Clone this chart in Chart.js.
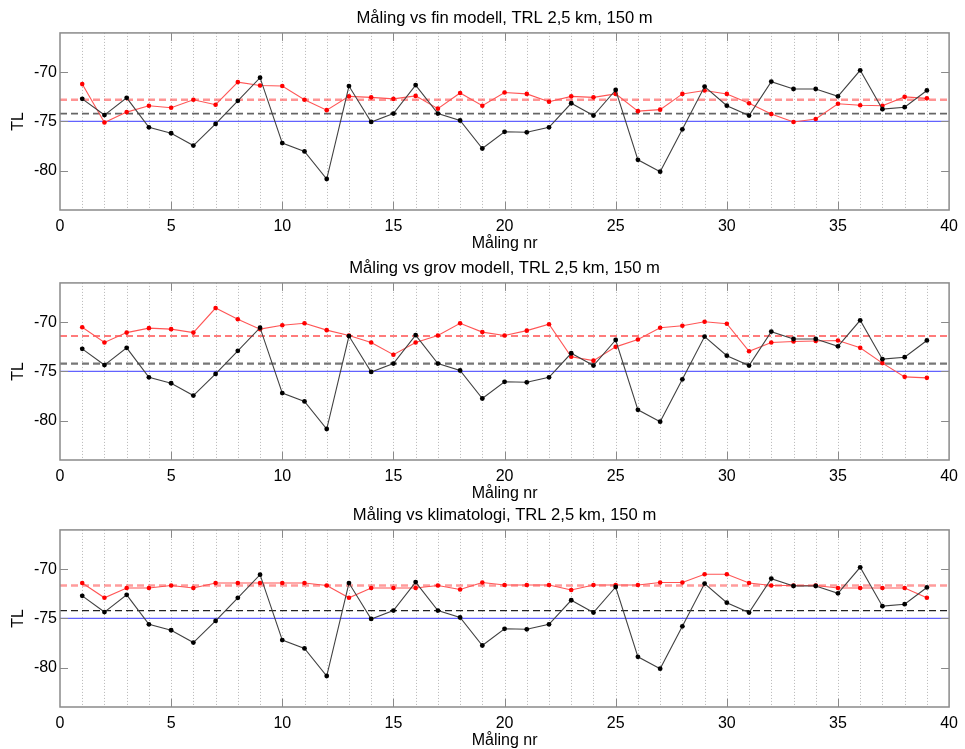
<!DOCTYPE html>
<html>
<head>
<meta charset="utf-8">
<script src="https://cdn.jsdelivr.net/npm/chart.js@4.4.1/dist/chart.umd.min.js"></script>
<style>
  html, body { margin: 0; padding: 0; background: #fff; }
  .panel { position: absolute; left: 0; width: 965px; height: 253px; }
</style>
</head>
<body>
<div class="panel" style="top:0"><canvas id="finChart"></canvas></div>
<div class="panel" style="top:250px"><canvas id="grovChart"></canvas></div>
<div class="panel" style="top:497px"><canvas id="klimaChart"></canvas></div>
<script>
// --- data ---
const malingNr = [1, 2, 3, 4, 5, 6, 7, 8, 9, 10, 11, 12, 13, 14, 15, 16, 17, 18, 19, 20,
  21, 22, 23, 24, 25, 26, 27, 28, 29, 30, 31, 32, 33, 34, 35, 36, 37, 38, 39];

// measured TL (same in all three panels)
const tlMaling = [-72.7, -74.35, -72.6, -75.6, -76.2, -77.45, -75.25, -72.9, -70.55, -77.2,
  -78.05, -80.85, -71.4, -75.05, -74.2, -71.3, -74.2, -74.9, -77.75, -76.05,
  -76.1, -75.6, -73.15, -74.4, -71.8, -78.9, -80.1, -75.8, -71.45, -73.4,
  -74.4, -70.95, -71.7, -71.7, -72.45, -69.8, -73.75, -73.55, -71.85];

// fine model
const tlFin = [-71.2, -75.1, -74.05, -73.4, -73.6, -72.8, -73.3, -71.0, -71.35, -71.4,
  -72.8, -73.85, -72.45, -72.55, -72.7, -72.4, -73.7, -72.1, -73.4, -72.05,
  -72.2, -73.0, -72.45, -72.55, -72.2, -73.95, -73.8, -72.2, -71.85, -72.2,
  -73.15, -74.25, -75.05, -74.75, -73.2, -73.35, -73.4, -72.5, -72.65];

// coarse model
const tlGrov = [-70.5, -72.05, -71.05, -70.6, -70.7, -71.05, -68.55, -69.7, -70.7, -70.3,
  -70.1, -70.8, -71.35, -72.05, -73.3, -72.05, -71.35, -70.1, -71.0, -71.35,
  -70.85, -70.2, -73.5, -73.9, -72.5, -71.75, -70.55, -70.35, -69.95, -70.15,
  -72.95, -72.05, -71.95, -71.9, -71.85, -72.6, -74.15, -75.55, -75.65];

// climatology
const tlKlima = [-71.4, -72.9, -71.9, -71.9, -71.65, -71.9, -71.4, -71.4, -71.4, -71.4,
  -71.4, -71.65, -72.9, -71.9, -71.9, -71.9, -71.65, -72.05, -71.35, -71.6,
  -71.6, -71.6, -72.1, -71.6, -71.6, -71.6, -71.35, -71.35, -70.5, -70.5,
  -71.4, -71.65, -71.65, -71.65, -71.9, -71.9, -71.9, -71.9, -72.9];

// horizontal reference levels
const snittMaling = -74.2;
const snittFin = -72.8;
const snittGrov = -71.4;
const snittKlima = -71.65;
const referanse = -75;

const xTicks = [0, 5, 10, 15, 20, 25, 30, 35, 40];
const yTicks = [-80, -75, -70];
const xRange = [0, 40];
const yRange = [-84, -66];

const FONT = "'Liberation Sans', Arial, sans-serif";

// dotted verticals, grey box and inward tick marks (matlab look)
const rammePlugin = {
  id: 'ramme',
  beforeDatasetsDraw(chart) {
    const { ctx, chartArea: a, scales: { x } } = chart;
    ctx.save();
    ctx.strokeStyle = '#b8b8b8';
    ctx.lineWidth = 1;
    ctx.setLineDash([1, 2]);
    malingNr.forEach(n => {
      const px = Math.round(x.getPixelForValue(n)) + 0.5;
      ctx.beginPath();
      ctx.moveTo(px, a.top);
      ctx.lineTo(px, a.bottom);
      ctx.stroke();
    });
    ctx.restore();
  },
  afterDraw(chart) {
    const { ctx, chartArea: a, scales: { x, y } } = chart;
    ctx.save();
    ctx.strokeStyle = '#8a8a8a';
    ctx.lineWidth = 1.5;
    ctx.strokeRect(a.left, a.top, a.right - a.left, a.bottom - a.top);
    ctx.lineWidth = 1;
    const len = 8;
    xTicks.forEach(v => {
      if (v === xRange[0] || v === xRange[1]) return;
      const px = Math.round(x.getPixelForValue(v)) + 0.5;
      ctx.beginPath();
      ctx.moveTo(px, a.bottom); ctx.lineTo(px, a.bottom - len);
      ctx.moveTo(px, a.top); ctx.lineTo(px, a.top + len);
      ctx.stroke();
    });
    yTicks.forEach(v => {
      const py = Math.round(y.getPixelForValue(v)) + 0.5;
      ctx.beginPath();
      ctx.moveTo(a.left, py); ctx.lineTo(a.left + len, py);
      ctx.moveTo(a.right, py); ctx.lineTo(a.right - len, py);
      ctx.stroke();
    });
    ctx.restore();
  }
};

function toPoints(values) {
  return malingNr.map((n, i) => ({ x: n, y: values[i] }));
}

function hline(value, color, width, dash) {
  return {
    data: [{ x: xRange[0], y: value }, { x: xRange[1], y: value }],
    borderColor: color,
    borderWidth: width,
    borderDash: dash,
    pointRadius: 0
  };
}

function createChart(canvasId, title, model, modelMean, look) {
  const ctx = document.getElementById(canvasId).getContext('2d');
  return new Chart(ctx, {
    type: 'line',
    data: {
      datasets: [
        {
          data: toPoints(tlMaling),
          borderColor: '#404040',
          borderWidth: 1.1,
          pointRadius: 2.4,
          pointBackgroundColor: '#000',
          pointBorderWidth: 0
        },
        {
          data: toPoints(model),
          borderColor: '#ff5555',
          borderWidth: 1.1,
          pointRadius: 2.3,
          pointBackgroundColor: '#ff0000',
          pointBorderWidth: 0
        },
        hline(modelMean, look.redDash, look.redWidth, [7, 4]),
        hline(snittMaling, look.blackDash, look.blackWidth, [7, 4]),
        hline(referanse, '#6262ff', 1.3, [])
      ]
    },
    options: {
      responsive: true,
      maintainAspectRatio: false,
      animation: false,
      events: [],
      layout: { padding: { left: 0, right: 12, top: 0, bottom: 0 } },
      plugins: {
        legend: { display: false },
        tooltip: { enabled: false },
        title: {
          display: true,
          text: title,
          fullSize: false,
          color: '#000',
          font: { family: FONT, size: 16.6, weight: 'normal', lineHeight: 1.2 },
          padding: { top: 8, bottom: 5 }
        }
      },
      scales: {
        x: {
          type: 'linear',
          min: xRange[0],
          max: xRange[1],
          afterBuildTicks: s => { s.ticks = xTicks.map(v => ({ value: v })); },
          afterFit: s => { s.height = 43; },
          grid: { display: false, drawTicks: false },
          border: { display: false },
          ticks: { color: '#000', padding: 7, maxRotation: 0, font: { family: FONT, size: 16 } },
          title: {
            display: true, text: 'Måling nr', color: '#000',
            font: { family: FONT, size: 16 }, padding: { top: 0, bottom: 0 }
          }
        },
        y: {
          min: yRange[0],
          max: yRange[1],
          afterBuildTicks: s => { s.ticks = yTicks.map(v => ({ value: v })); },
          afterFit: s => { s.width = 60; },
          grid: { display: false, drawTicks: false },
          border: { display: false },
          ticks: { color: '#000', padding: 3, font: { family: FONT, size: 16 } },
          title: {
            display: true, text: 'TL', color: '#000',
            font: { family: FONT, size: 16 }, padding: { top: 9, bottom: 0 }
          }
        }
      }
    },
    plugins: [rammePlugin]
  });
}

const chartFin = createChart('finChart', 'Måling vs fin modell, TRL 2,5 km, 150 m', tlFin, snittFin, {
  redDash: 'rgba(255,90,90,0.65)', redWidth: 2.5,
  blackDash: '#666', blackWidth: 1.8
});
const chartGrov = createChart('grovChart', 'Måling vs grov modell, TRL 2,5 km, 150 m', tlGrov, snittGrov, {
  redDash: '#ff5050', redWidth: 1.4,
  blackDash: '#777', blackWidth: 2.2
});
const chartKlima = createChart('klimaChart', 'Måling vs klimatologi, TRL 2,5 km, 150 m', tlKlima, snittKlima, {
  redDash: 'rgba(255,90,90,0.6)', redWidth: 2.5,
  blackDash: '#222', blackWidth: 1.2
});
</script>
</body>
</html>
